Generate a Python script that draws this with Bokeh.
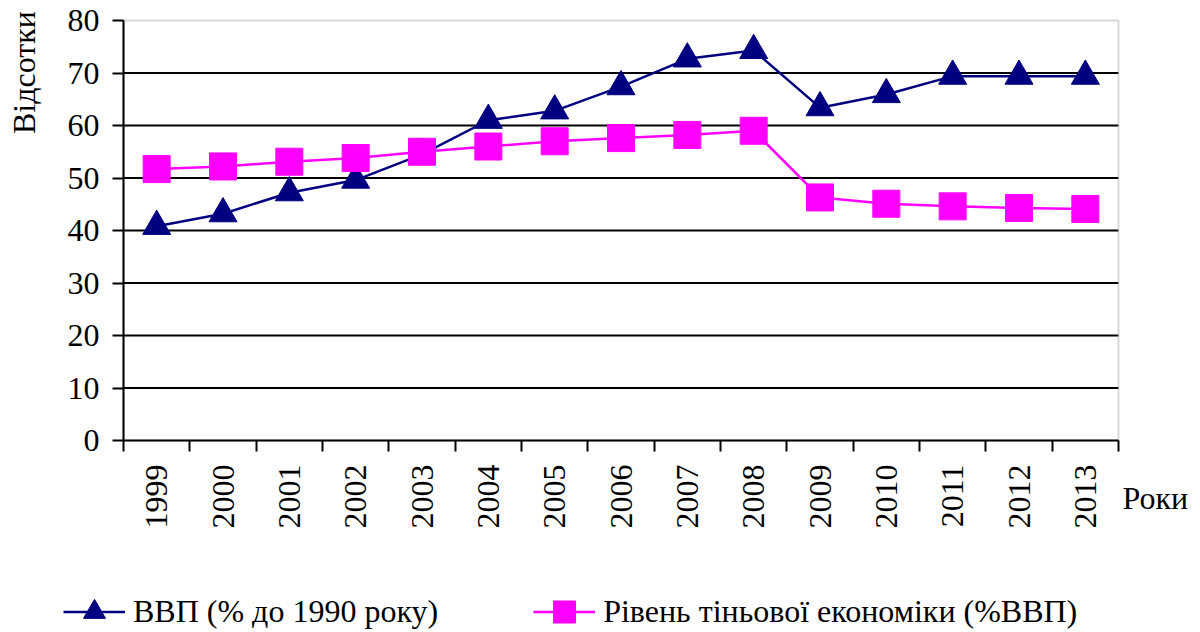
import math
from bokeh.plotting import figure
from bokeh.models import (Range1d, FixedTicker, Legend, LegendItem, Label,
                          LinearAxis, BoxAnnotation)
from bokeh.embed import file_html
from bokeh.resources import INLINE

# ---- data ----
years = ["1999", "2000", "2001", "2002", "2003", "2004", "2005", "2006",
         "2007", "2008", "2009", "2010", "2011", "2012", "2013"]
gdp = [40.8, 43.2, 47.2, 49.6, 54.5, 61.0, 62.8, 67.4,
       72.7, 74.3, 63.4, 65.9, 69.4, 69.4, 69.4]
shadow = [51.7, 52.2, 53.1, 53.8, 55.0, 56.0, 57.0, 57.6,
          58.2, 59.0, 46.3, 45.1, 44.6, 44.3, 44.1]
y_ticks = [0, 10, 20, 30, 40, 50, 60, 70, 80]
grid_ticks = [10, 20, 30, 40, 50, 60, 70]
gdp_label = "ВВП (% до 1990 року)"
shadow_label = "Рівень тіньової економіки (%ВВП)"
y_title = "Відсотки"
x_title = "Роки"

FONT = "Liberation Serif"
FS = "32px"
NAVY = "#000080"
MAGENTA = "#FF00FF"

W, H = 1196, 630
# plot-area placement in pixels
PX_L, PX_R, PX_T, PX_B = 123, 1118, 20, 440

n = len(years)
y_max = y_ticks[-1]
xs = [i + 0.5 for i in range(n)]          # category centres
bounds = [i for i in range(n + 1)]        # category boundaries

ux = (PX_R - PX_L) / n                    # px per category
uy = (PX_B - PX_T) / y_max                # px per unit
x_range = Range1d(-PX_L / ux, n + (W - PX_R) / ux)
y_range = Range1d(-(H - PX_B) / uy, y_max + PX_T / uy)

p = figure(width=W, height=H, output_backend="svg", toolbar_location=None,
           x_range=x_range, y_range=y_range,
           x_axis_location=None, y_axis_location=None,
           min_border=0)
p.min_border_left = p.min_border_right = p.min_border_top = p.min_border_bottom = 0
p.background_fill_color = "white"
p.border_fill_color = "white"
p.outline_line_color = None
p.grid.visible = False

# plot-area border (gray top / right)
p.add_layout(BoxAnnotation(left=0, right=n, bottom=0, top=y_max,
                           fill_color=None, fill_alpha=0,
                           line_color="#808080", line_width=2, level="underlay"))

# horizontal grid lines, limited to plot area
p.segment(x0=[0] * len(grid_ticks), x1=[n] * len(grid_ticks),
          y0=grid_ticks, y1=grid_ticks, line_color="black", line_width=2,
          level="underlay")

# y axis
ya = LinearAxis(fixed_location=0, bounds=(0, y_max))
ya.ticker = FixedTicker(ticks=y_ticks)
ya.axis_line_color = "black"
ya.axis_line_width = 2
ya.major_tick_line_color = "black"
ya.major_tick_line_width = 2
ya.major_tick_in = 0
ya.major_tick_out = 11
ya.minor_tick_line_color = None
ya.major_label_text_font = FONT
ya.major_label_text_font_size = FS
ya.major_label_text_color = "black"
ya.major_label_standoff = 13
p.add_layout(ya, "left")

# x axis
xa = LinearAxis(fixed_location=0, bounds=(0, n))
xa.ticker = FixedTicker(ticks=xs, minor_ticks=bounds)
xa.major_label_overrides = {x: y for x, y in zip(xs, years)}
xa.axis_line_color = "black"
xa.axis_line_width = 2
xa.major_tick_in = 0
xa.major_tick_out = 0
xa.major_tick_line_color = None
xa.minor_tick_line_color = "black"
xa.minor_tick_line_width = 2
xa.minor_tick_in = 0
xa.minor_tick_out = 11
xa.major_label_orientation = math.pi / 2
xa.major_label_text_font = FONT
xa.major_label_text_font_size = FS
xa.major_label_text_color = "black"
xa.major_label_standoff = 13
p.add_layout(xa, "below")

# series
l1 = p.line(xs, gdp, line_color=NAVY, line_width=2.5)
m1 = p.scatter(xs, gdp, marker="triangle", size=28, fill_color=NAVY, line_color=NAVY)
l2 = p.line(xs, shadow, line_color=MAGENTA, line_width=2.5)
m2 = p.scatter(xs, shadow, marker="square", size=27, fill_color=MAGENTA, line_color=MAGENTA)

# legend (location in px from plot bottom-left)
leg_h = 55
legend = Legend(items=[LegendItem(label=gdp_label, renderers=[l1, m1]),
                       LegendItem(label=shadow_label, renderers=[l2, m2])],
                orientation="horizontal", location=(63, H - 611 - leg_h / 2),
                glyph_width=62, glyph_height=leg_h, label_standoff=8, spacing=95,
                padding=0, margin=0, border_line_color=None,
                background_fill_alpha=0,
                label_text_font=FONT, label_text_font_size=FS,
                label_text_color="black")
p.add_layout(legend, "center")

# axis titles
p.add_layout(Label(x=(23 - PX_L) / ux, y=(PX_B - 72) / uy, text=y_title,
                   angle=math.pi / 2,
                   text_align="center", text_baseline="middle",
                   text_font=FONT, text_font_size=FS, text_color="black"))
p.add_layout(Label(x=(1122 - PX_L) / ux, y=(PX_B - 497) / uy, text=x_title,
                   text_align="left", text_baseline="middle",
                   text_font=FONT, text_font_size=FS, text_color="black"))

open("out.html", "w").write(file_html(p, INLINE))
